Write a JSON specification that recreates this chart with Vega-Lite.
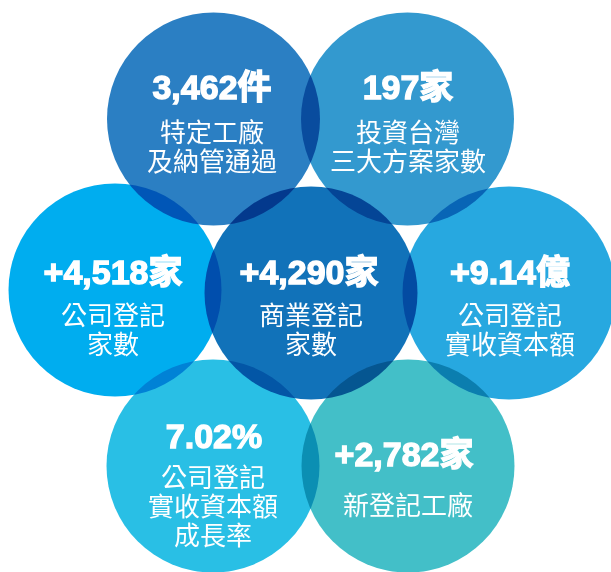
{
  "$schema": "https://vega.github.io/schema/vega-lite/v6.json",
  "width": 611,
  "height": 572,
  "padding": 0,
  "autosize": {"type": "none"},
  "background": "white",
  "config": {"view": {"stroke": null}},
  "datasets": {
    "circles": [
      {"id": "TL", "cx": 213.5, "cy": 119},
      {"id": "TR", "cx": 407.5, "cy": 119},
      {"id": "ML", "cx": 115, "cy": 290},
      {"id": "C", "cx": 311, "cy": 293},
      {"id": "R", "cx": 509, "cy": 293},
      {"id": "BL", "cx": 213, "cy": 466},
      {"id": "BR", "cx": 408, "cy": 466}
    ],
    "nums": [
      {"x": 212, "y": 89, "text": "3,462件"},
      {"x": 408, "y": 89, "text": "197家"},
      {"x": 113, "y": 274, "text": "+4,518家"},
      {"x": 309, "y": 274, "text": "+4,290家"},
      {"x": 510, "y": 274, "text": "+9.14億"},
      {"x": 214, "y": 438, "text": "7.02%"},
      {"x": 404, "y": 456, "text": "+2,782家"}
    ],
    "labels": [
      {"x": 212, "y": 134, "text": "特定工廠\n及納管通過"},
      {"x": 408, "y": 134, "text": "投資台灣\n三大方案家數"},
      {"x": 113, "y": 317, "text": "公司登記\n家數"},
      {"x": 311, "y": 317, "text": "商業登記\n家數"},
      {"x": 510, "y": 317, "text": "公司登記\n實收資本額"},
      {"x": 213, "y": 479, "text": "公司登記\n實收資本額\n成長率"},
      {"x": 408, "y": 507, "text": "新登記工廠"}
    ]
  },
  "encoding": {
    "x": {"type": "quantitative", "scale": {"domain": [0, 611], "nice": false, "zero": false}, "axis": null},
    "y": {"type": "quantitative", "scale": {"domain": [0, 572], "nice": false, "zero": false, "reverse": true}, "axis": null}
  },
  "layer": [
    {
      "data": {"name": "circles"},
      "mark": {"type": "point", "shape": "circle", "filled": true, "opacity": 1, "size": 45369, "blend": "multiply"},
      "encoding": {
        "x": {"field": "cx", "type": "quantitative"},
        "y": {"field": "cy", "type": "quantitative"},
        "color": {
          "field": "id", "type": "nominal", "legend": null,
          "scale": {
            "domain": ["TL", "TR", "ML", "C", "R", "BL", "BR"],
            "range": ["#2b7fc3", "#3399cf", "#00adef", "#1172b9", "#27a8e0", "#29bfe5", "#43bfc8"]
          }
        }
      }
    },
    {
      "data": {"name": "nums"},
      "mark": {"type": "text", "font": "Liberation Sans, Noto Sans CJK TC", "fontWeight": "bold", "fontSize": 34, "fill": "white", "stroke": "white", "strokeWidth": 1.3, "align": "center", "baseline": "middle"},
      "encoding": {
        "x": {"field": "x", "type": "quantitative"},
        "y": {"field": "y", "type": "quantitative"},
        "text": {"field": "text"}
      }
    },
    {
      "data": {"name": "labels"},
      "mark": {"type": "text", "font": "Noto Sans CJK TC", "fontSize": 26, "lineHeight": 29, "lineBreak": "\n", "color": "white", "align": "center", "baseline": "middle"},
      "encoding": {
        "x": {"field": "x", "type": "quantitative"},
        "y": {"field": "y", "type": "quantitative"},
        "text": {"field": "text"}
      }
    }
  ]
}
